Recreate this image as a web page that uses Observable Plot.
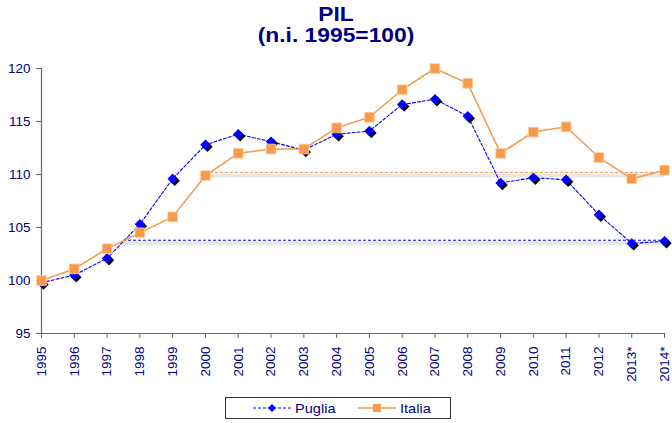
<!DOCTYPE html>
<html>
<head>
<meta charset="utf-8">
<script src="https://cdn.jsdelivr.net/npm/d3@7"></script>
<script src="https://cdn.jsdelivr.net/npm/@observablehq/plot@0.6"></script>
<style>
  html, body { margin: 0; padding: 0; background: #fff; }
  body { font-family: Arial, "Liberation Sans", sans-serif; }
  #wrap { position: relative; width: 672px; height: 423px; overflow: hidden; }
  #title { position: absolute; left: 0; top: 0; width: 672px; text-align: center; color: #000080; font-weight: bold; font-size: 19.5px; }
  #title div { display: block; transform: scaleX(1.17); transform-origin: center; }
  #t1 { position: absolute; left: 0; right: 0; top: 3px; line-height: 22px; }
  #t2 { position: absolute; left: 0; right: 0; top: 24px; line-height: 22px; }
  #chart { position: absolute; left: 0; top: 58px; }
  #chart svg { overflow: visible; }
  #legend { position: absolute; left: 225px; top: 397px; width: 226px; height: 22px; border: 1px solid #333; box-sizing: border-box; display: flex; align-items: center; color: #000080; font-size: 13px; }
  #legend .item { display: flex; align-items: center; position: absolute; top: 2px; }
  #legend svg { display: block; }
</style>
</head>
<body>
<div id="wrap">
  <div id="title"><div id="t1">PIL</div><div id="t2">(n.i. 1995=100)</div></div>
  <div id="chart"></div>
  <div id="legend"></div>
</div>
<script>
// ---- data ----
const years = [1995, 1996, 1997, 1998, 1999, 2000, 2001, 2002, 2003, 2004, 2005, 2006, 2007, 2008, 2009, 2010, 2011, 2012, 2013, 2014];
const yearLabels = ["1995", "1996", "1997", "1998", "1999", "2000", "2001", "2002", "2003", "2004", "2005", "2006", "2007", "2008", "2009", "2010", "2011", "2012", "2013*", "2014*"];
const puglia = [99.8, 100.5, 102.1, 105.3, 109.6, 112.8, 113.8, 113.1, 112.3, 113.8, 114.1, 116.6, 117.1, 115.5, 109.2, 109.7, 109.5, 106.2, 103.5, 103.7];
const italia = [100.0, 101.1, 103.0, 104.5, 106.0, 109.9, 112.0, 112.4, 112.4, 114.4, 115.4, 118.0, 120.0, 118.6, 112.0, 114.0, 114.5, 111.6, 109.6, 110.4];
const seriesNames = ["Puglia", "Italia"];
const yTicks = [95, 100, 105, 110, 115, 120];
// reference levels (horizontal dashed lines)
const refSeries = ["Italia", "Puglia"];
const refLevel = [110.2, 103.8];
const refStart = [2000, 1997.5];
const refEnd = [2014, 2014];

const colors = { Puglia: "#0000FF", Italia: "#F79646" };

const pugliaData = years.map((x, i) => ({ x, y: puglia[i] }));
const italiaData = years.map((x, i) => ({ x, y: italia[i] }));
const refData = refSeries.map((s, i) => ({ s, y: refLevel[i], x1: refStart[i], x2: refEnd[i] }));

const diamond = {
  draw(ctx, size) {
    const r = Math.sqrt(size / Math.PI);
    ctx.moveTo(0, -r); ctx.lineTo(r, 0); ctx.lineTo(0, r); ctx.lineTo(-r, 0); ctx.closePath();
  }
};

const axisColor = "#666666";
const textColor = "#000080";

const chart = Plot.plot({
  width: 672,
  height: 335,
  marginTop: 10,
  marginLeft: 41,
  marginRight: 8,
  marginBottom: 60,
  style: { fontFamily: "Arial, 'Liberation Sans', sans-serif", fontSize: "13.5px", background: "transparent" },
  x: { type: "linear", domain: [years[0], years[years.length - 1]] },
  y: { domain: [yTicks[0], yTicks[yTicks.length - 1]] },
  marks: [
    // reference line shadows
    Plot.ruleY(refData, { y: "y", x1: "x1", x2: "x2", stroke: "#d9d9d9", strokeWidth: 4, strokeOpacity: 0.6, dy: 3 }),
    Plot.ruleY(refData, { y: "y", x1: "x1", x2: "x2", stroke: d => colors[d.s], strokeWidth: 1, strokeDasharray: "3,2" }),
    // axes
    Plot.axisY({ ticks: yTicks, tickSize: 5, tickPadding: 6, stroke: axisColor, fill: textColor, label: null, fontSize: 13.5 }),
    Plot.axisX({ ticks: years, tickSize: 5, tickPadding: 8, tickRotate: -90, tickFormat: d => yearLabels[years.indexOf(d)], stroke: axisColor, fill: textColor, label: null, fontSize: 13.5 }),
    Plot.ruleX([years[0]], { stroke: axisColor, strokeWidth: 1.2 }),
    Plot.ruleY([yTicks[0]], { stroke: axisColor, strokeWidth: 1.2 }),
    // Puglia
    Plot.line(pugliaData, { x: "x", y: "y", stroke: colors.Puglia, strokeWidth: 1.1, strokeDasharray: "3,2" }),
    Plot.dot(pugliaData, { x: "x", y: "y", symbol: diamond, r: 5.2, fill: "#000", dx: 2, dy: 2 }),
    Plot.dot(pugliaData, { x: "x", y: "y", symbol: diamond, r: 5.2, fill: colors.Puglia }),
    // Italia
    Plot.line(italiaData, { x: "x", y: "y", stroke: colors.Italia, strokeWidth: 1.5 }),
    Plot.dot(italiaData, { x: "x", y: "y", symbol: "square", r: 5.5, fill: "#F89A4C", stroke: "#FBCFA6", strokeWidth: 0.8 })
  ]
});
document.getElementById("chart").appendChild(chart);

// ---- legend ----
const legend = document.getElementById("legend");
const legendItems = [
  { name: seriesNames[0], left: 27, svg: `<svg width="38" height="16"><line x1="0" y1="8" x2="38" y2="8" stroke="${colors.Puglia}" stroke-width="1" stroke-dasharray="3,2"/><path d="M19,4 L23,8 L19,12 L15,8 Z" fill="${colors.Puglia}"/></svg>` },
  { name: seriesNames[1], left: 132, svg: `<svg width="38" height="16"><line x1="0" y1="8" x2="38" y2="8" stroke="${colors.Italia}" stroke-width="1.5"/><rect x="15" y="4" width="8" height="8" fill="#F89A4C"/></svg>` }
];
legendItems.forEach(it => {
  const el = document.createElement("div");
  el.className = "item";
  el.style.left = it.left + "px";
  el.innerHTML = it.svg + `<span style="margin-left:4px; display:inline-block; transform:scaleX(1.12); transform-origin:left;">${it.name}</span>`;
  legend.appendChild(el);
});
</script>
</body>
</html>
